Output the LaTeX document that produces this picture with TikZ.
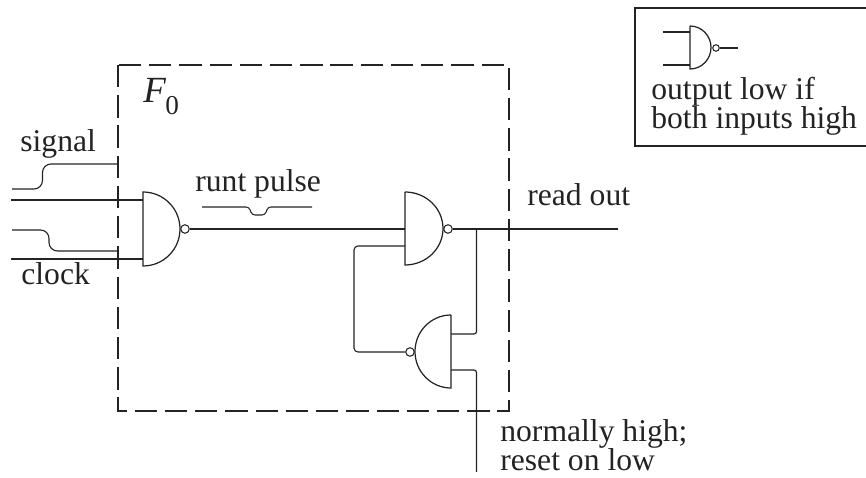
\documentclass[tikz,border=0pt]{standalone}
\usepackage{fontspec}
\setmainfont{Liberation Serif}
\definecolor{inkgray}{RGB}{35, 35, 35}
\tikzset{
  wire/.style={color=inkgray, line width=0.65pt},
  gatebody/.style={color=inkgray, line width=0.7pt, fill=white},
  bubble/.style={circle, draw=inkgray, fill=white, line width=0.6pt, inner sep=0pt, minimum size=0.17cm},
  smallbubble/.style={bubble, minimum size=0.13cm},
  label/.style={color=inkgray, anchor=base west, inner sep=0pt, font=\fontsize{18}{22}\selectfont},
}

\begin{document}
\begin{tikzpicture}
            \useasboundingbox (0.00, 0.00) rectangle (17.32, 9.56);
            % the dashed box and the key
            \draw[wire, dash pattern=on 12.7pt off 4.5pt]  ( 2.36, 8.26) rectangle (10.18, 1.34);
            \draw[wire] (17.32, 9.40) -- (12.70, 9.40) -- (12.70, 6.64) -- (17.32, 6.64);
            % gates
            \filldraw[gatebody] ( 2.86, 5.72) -- ( 2.86, 4.24) arc[start angle=-90, end angle=90, x radius=0.74, y radius=0.74] -- cycle;
            \filldraw[gatebody] ( 8.10, 5.72) -- ( 8.10, 4.26) arc[start angle=-90, end angle=90, x radius=0.76, y radius=0.73] -- cycle;
            \filldraw[gatebody] ( 9.02, 3.26) -- ( 9.02, 1.80) arc[start angle=270, end angle=90, x radius=0.72, y radius=0.73] -- cycle;
            \filldraw[gatebody] (13.80, 9.04) -- (13.80, 8.18) arc[start angle=-90, end angle=90, x radius=0.42, y radius=0.43] -- cycle;
            % bubbles
            \node[bubble]      (gateAout) at ( 3.70, 4.98) {};
            \node[bubble]      (gateBout) at ( 8.96, 4.98) {};
            \node[bubble]      (gateCout) at ( 8.20, 2.52) {};
            \node[smallbubble] (keyout)   at (14.32, 8.60) {};
            % pins
            \coordinate (gateAa)  at ( 2.86, 5.56);
            \coordinate (gateAb)  at ( 2.86, 4.38);
            \coordinate (gateBa)  at ( 8.10, 4.98);
            \coordinate (gateBb)  at ( 8.10, 4.64);
            \coordinate (gateCa)  at ( 9.02, 2.88);
            \coordinate (gateCb)  at ( 9.02, 2.16);
            \coordinate (keya)    at (13.80, 8.92);
            \coordinate (keyb)    at (13.80, 8.26);
            \coordinate (joint)   at ( 9.53, 4.98);
            \coordinate (outend)  at (12.36, 4.98);
            \coordinate (resetend)at ( 9.53, 0.12);
            \coordinate (inA)     at ( 0.22, 5.56);
            \coordinate (inB)     at ( 0.22, 4.38);
            \coordinate (keyaend) at (13.26, 8.92);
            \coordinate (keybend) at (13.26, 8.26);
            \coordinate (keyend)  at (14.76, 8.60);
            % wires
            \draw[wire] (inA) -- (gateAa);
            \draw[wire] (inB) -- (gateAb);
            \draw[wire] (gateAout) -- (gateBa);
            \draw[wire] (gateBout) -- (outend);
            \draw[wire, rounded corners=0.08cm] (gateBb) -- ( 7.08, 4.64) -- ( 7.08, 2.52) -- (gateCout);
            \draw[wire, rounded corners=0.05cm] (gateCa) -- ( 9.53, 2.88) -- (joint);
            \draw[wire, rounded corners=0.05cm] (gateCb) -- ( 9.53, 2.16) -- (resetend);
            \draw[wire] (keyaend) -- (keya);
            \draw[wire] (keybend) -- (keyb);
            \draw[wire] (keyout) -- (keyend);
            % pulse shapes
            \draw[wire, rounded corners=0.17cm] ( 0.24, 5.78) -- ( 0.85, 5.78) -- ( 0.85, 6.28) -- ( 2.36, 6.28);
            \draw[wire, rounded corners=0.17cm] ( 0.24, 4.96) -- ( 0.98, 4.96) -- ( 0.98, 4.54) -- ( 2.36, 4.54);
            \draw[wire, line width=0.6pt, rounded corners=0.06cm] ( 4.04, 5.42) -- ( 4.98, 5.42) -- ( 5.04, 5.26) -- ( 5.30, 5.26) -- ( 5.36, 5.42) -- ( 6.24, 5.42);
            % labels
            \node[label] (signal)  at ( 0.40, 6.52) {signal};
            \node[label] (clock)   at ( 0.42, 3.86) {clock};
            \node[label] (runt)    at ( 3.90, 5.72) {runt pulse};
            \node[label] (readout) at (10.54, 5.44) {read out};
            \node[label] (high)    at (10.00, 0.72) {normally high;};
            \node[label] (low)     at (10.00, 0.14) {reset on low};
            \node[label] (keytop)  at (13.02, 7.56) {output low if};
            \node[label] (keylow)  at (13.02, 6.98) {both inputs high};
            \node[label] (fzero)   at ( 2.86, 7.50) {\fontsize{21}{24}\selectfont\textit{F}\kern-0.5pt\raisebox{-6.8pt}{\fontsize{15.5}{18}\selectfont 0}};
        \end{tikzpicture}
\end{document}
